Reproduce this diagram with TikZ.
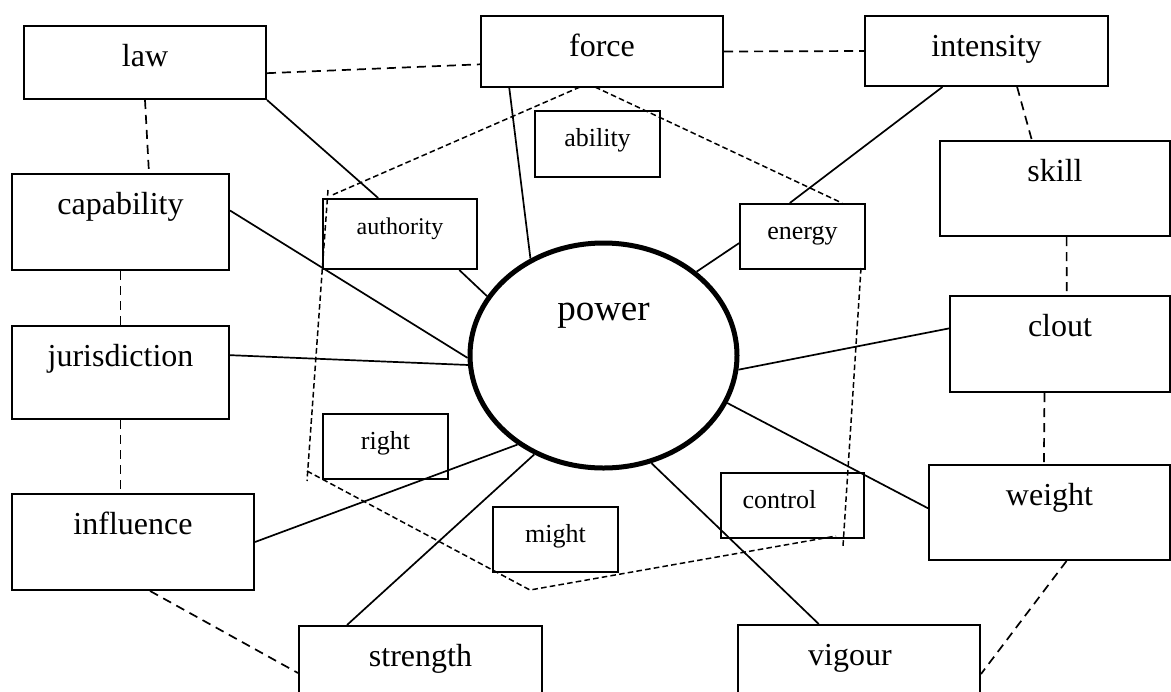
\documentclass[tikz,border=0pt]{standalone}
\usepackage{fontspec}
\setmainfont{Liberation Serif}
\usetikzlibrary{shapes.geometric,calc}
\begin{document}
\begin{tikzpicture}[x=.5pt, y=-.5pt,
    word/.style={draw, line width=1pt, inner ysep=0pt, anchor=north west, font=\fontsize{16}{19}\selectfont, text height=20pt},
    small/.style={word, font=\fontsize{13}{15}\selectfont, text height=17.5pt},
    link/.style={line width=.85pt},
    kin/.style={line width=.85pt, dash pattern=on 4.5pt off 3pt},
    fence/.style={line width=.75pt, dash pattern=on 2.8pt off 1.6pt}]
\useasboundingbox (0,0) rectangle (1171,691);
\clip (0,0) rectangle (1171,691);
\node[ellipse, draw, line width=2.5pt, minimum width=133.5pt, minimum height=112.5pt, inner sep=0pt,
      font=\fontsize{18.5}{22}\selectfont, text height=12pt, text depth=47.5pt] (power) at (603.5,355.5) {power};
\node[word, minimum width=121pt, text depth=16.5pt] (law) at (23,25) {law};
\node[word, minimum width=121pt, text depth=15.5pt] (force) at (480,15) {force};
\node[word, minimum width=121.5pt, text depth=15pt] (intensity) at (864,15) {intensity};
\node[small, minimum width=62.5pt, text depth=15.5pt] (ability) at (534,110) {ability};
\node[word, minimum width=108.5pt, text depth=28pt] (capability) at (11,173) {capability};
\node[small, font=\fontsize{12}{14}\selectfont, minimum width=77pt, text depth=17.5pt] (authority) at (322,198) {authority};
\node[small, minimum width=62.5pt, text depth=15pt] (energy) at (739,203) {energy};
\node[word, minimum width=115pt, text depth=27.5pt] (skill) at (939,140) {skill};
\node[word, minimum width=108.5pt, text depth=26.5pt] (jurisdiction) at (11,325) {jurisdiction};
\node[word, minimum width=110pt, text depth=28pt] (clout) at (949,295) {clout};
\node[small, minimum width=62.5pt, text depth=15pt] (right) at (322,413) {right};
\node[small, minimum width=62.5pt, text depth=15pt] (might) at (492,506) {might};
\node[small, minimum width=71.5pt, text depth=15pt] (control) at (720,472) {control\hspace*{13pt}};
\node[word, minimum width=120.5pt, text depth=27.5pt] (weight) at (928,464) {weight};
\node[word, minimum width=121pt, text depth=28pt] (influence) at (11,493) {influence};
\node[word, minimum width=121.5pt, text depth=28pt] (strength) at (298,625) {strength};
\node[word, minimum width=121pt, text depth=28pt] (vigour) at (737,624) {vigour\hspace*{9pt}};
\draw[link] (law.south east) -- ($(authority.north west)!.36!(authority.north east)$);
\draw[link] ($(force.south west)!.12!(force.south east)$) -- (power.127);
\draw[link] ($(authority.south west)!.88!(authority.south east)$) -- (power.153);
\draw[link] (capability.6) -- (power.181);
\draw[link] (jurisdiction.9) -- (power.184);
\draw[link] (influence.east) -- (power.226);
\draw[link] ($(strength.north west)!.2!(strength.north east)$) -- (power.235);
\draw[link] (power.294) -- ($(vigour.north west)!.335!(vigour.north east)$);
\draw[link] (power.339) -- (weight.178);
\draw[link] (power.354) -- (clout.172);
\draw[link] (power.42) -- (energy.186);
\draw[link] ($(intensity.south west)!.32!(intensity.south east)$) -- ($(energy.north west)!.4!(energy.north east)$);
\draw[kin] (law.355) -- (force.186);
\draw[kin] (force.east) -- (intensity.west);
\draw[kin] (law.south) -- ($(capability.north west)!.63!(capability.north east)$);
\draw[kin] (capability.south) -- (jurisdiction.north);
\draw[kin] (jurisdiction.south) -- (influence.north -| jurisdiction.south);
\draw[kin] ($(influence.south west)!.57!(influence.south east)$) -- ($(strength.north west)+(0,48)$);
\draw[kin] ($(intensity.south west)!.625!(intensity.south east)$) -- ($(skill.north west)!.4!(skill.north east)$);
\draw[kin] ($(skill.south west)!.55!(skill.south east)$) -- ($(clout.north west)!.53!(clout.north east)$);
\draw[kin] ($(clout.south west)!.43!(clout.south east)$) -- ($(weight.north west)!.477!(weight.north east)$);
\draw[kin] ($(weight.south west)!.57!(weight.south east)$) -- ($(vigour.north east)+(0,50)$);
\draw[fence] (580,87) -- (330,196);
\draw[fence] (328,190) -- (307,481);
\draw[fence] (307,471) -- (530,590) -- (836,536);
\draw[fence] (861,268) -- (843,546);
\draw[fence] (595,87) -- (842,203);
\end{tikzpicture}
\end{document}
